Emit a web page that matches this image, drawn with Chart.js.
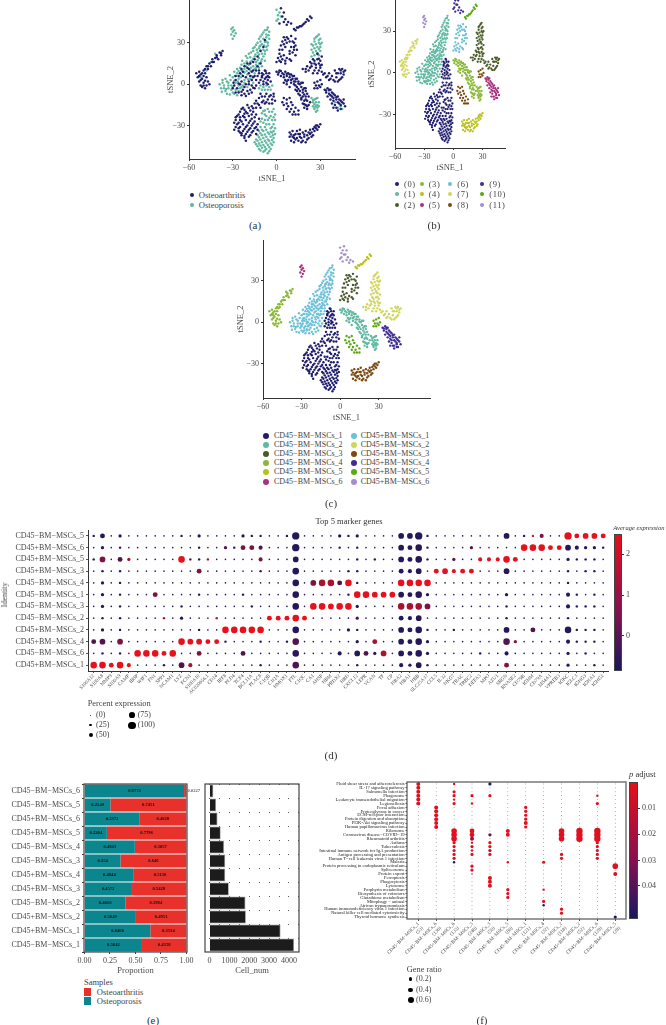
<!DOCTYPE html>
<html>
<head>
<meta charset="utf-8">
<script src="https://cdn.jsdelivr.net/npm/chart.js@4"></script>
<style>
html, body { margin: 0; padding: 0; background: #fff; overflow: hidden; }
#page { position: relative; width: 666px; height: 1025px; overflow: hidden; font-family: "Liberation Serif", serif; color: #444; }
#page canvas { position: absolute; }
#page span, #page i.bar { position: absolute; white-space: nowrap; }
</style>
</head>
<body>
<div id="page"></div>
<script>
// tSNE points. flat x,y lists, oa = osteoarthritis, op = osteoporosis
const blobAoa = [-8,10,-7,8,-9,7,-6,6,-10,5,-8,4,-6,3,-11,3,-9,2,-7,1,-5,5,-10,8,-4,2,-12,1,-4,-8,-7,-7,-10,-9,-3,-11,-6,-11,-9,-12,-12,-10,-14,-12,-2,-9,-5,-14,-8,-14,-12,-15,-15,-14,-11,-17,-17,-16,-14,-17,-1,-12,-20,-15,-23,-17,-18,-19,-21,-20,-25,-20,-16,-20,-19,-23,-23,-23,-27,-23,-14,-22,-17,-25,-21,-26,-25,-26,-28,-26,-15,-27,-19,-28,-23,-29,-27,-29,-12,-25,-13,-29,-17,-30,-21,-31,-25,-31,-28,-31,-15,-32,-19,-33,-23,-34,-26,-34,-17,-35,-21,-36,-24,-37,-19,-38,-22,-39,-13,-33,
    -7.5,9.5,-5,8,-10,6,-7,5,-9,0,-6,0,-11,-7,-8,-9,-5,-9,-2,-7,-13,-14,-10,-13,-7,-13,-3,-14,-16,-17.5,-19,-17,-22,-18.5,-24,-18,-26,-22,-22,-21.5,-20,-21,-17,-22,-15,-24,-18,-26.5,-22,-24,-25,-24,-28,-24,-29,-28,-26,-28,-24,-27,-20,-30,-16,-28.5,-14,-31,-18,-32,-22,-32.5,-26,-32,-29,-33,-24,-35.5,-20,-34.5,-16,-34,-14,-36,-18,-37,-22,-37.5,-25,-35,-21,-41];
const blobAop = [-11,-1,-9,-2,-7,-1,-5,-2,-12,-3,-10,-4,-8,-4,-6,-4,-4,-4,-3,-1,-8,-19,-5,-20,-2,-18,-10,-21,-7,-23,-4,-23,-1,-22,-10,-25,-6,-26,-3,-26,-9,-28,-5,-29,-2,-29,-1,-26,-11,-31,-8,-31,-4,-32,-1,-32,-12,-34,-9,-34,-6,-35,-3,-35,-1,-36,-13,-37,-10,-37,-7,-38,-4,-38,-2,-39,-14,-40,-11,-40,-8,-41,-5,-41,-2,-42,-15,-42,-12,-43,-9,-44,-6,-44,-3,-44,-13,-45,-10,-46,-7,-47,-4,-47,-9,-49,-6,-50,-11,-48,
    -9,-19.5,-6,-18,-3,-20,-8,-22,-5,-24.5,-2,-24,-11,-27,-8,-26,-7,-29,-3,-31,-10,-33,-7,-33,-4,-34.5,-2,-34,-11,-35.5,-8,-36.5,-5,-36,-2.5,-37,-12,-38.5,-9,-39,-6,-40,-3,-40.5,-13,-41,-10,-42,-7,-42.5,-4,-43,-14,-43.5,-11,-44.5,-8,-45.5,-5,-45.5,-12,-47,-8,-48,-5,-48.5];
const blobBop = [-6,41,-8,39,-5,38,-10,36,-7,36,-5,33,-12,33,-9,33,-6,30,-13,30,-10,29,-7,27,-15,27,-12,26,-9,25,-16,24,-13,23,-10,22,-19,22,-15,20,-12,19,-20,19,-17,17,-22,15,-14,16,-19,14,-16,13,-25,12,-22,11,-18,10,-27,8,-24,7,-20,7,-30,5,-26,4,-33,1,-36,-1,-38,-3,-35,-5,-31,-1,-28,1,-34,-7,-30,-6,-27,-8,-31,-4,-25,-3,-22,3,-18,4,-15,8,-12,12,-10,18,-8,22,-7,31,-11,28,-14,14,-23,-1,-28,-4,-20,-2,-16,1,-37,1,-33,-3,
    -6.5,39.5,-7,34,-9,37.5,-11,34.5,-8,30.5,-11,31,-5.5,35.5,-14,28.5,-11.5,27.5,-8.5,28,-6,28,-16,26,-13.5,25,-11,24.5,-8,24,-17.5,23,-14.5,21.5,-12,21.5,-9,20,-21,20.5,-18,19.5,-16,18.5,-13,17.5,-10.5,16.5,-23.5,17,-20.5,16.5,-18,16,-24,14,-21,13,-17.5,12,-14,12,-27,11,-24,10,-20.5,9.5,-29,9,-26,9.5,-22,8.5,-32,6.5,-28.5,6,-24.5,5,-35,4,-31.5,3,-29,2.5,-26.5,2,-37,3,-34,2,-39,0,-36,-3,-33,-1,-30,-2,-26,-1,-37.5,-5.5,-34.5,-3.5,-32,-7.5,-29,-7,-26,-5,-24,-2,-22,1,-19.5,3.5,-17,6,-15,11,-12,15,-10,13,-8,17,-6.5,25];
const blobBoa = [-20,12,-16,10,-14,10,-23,9,-19,8,-13,6,-26,6,-21,5,-16,5,-28,3,-24,2,-19,2,-14,3,-29,-1,-25,0,-21,0,-17,-1,-14,-1,-27,-3,-23,-4,-18,-4,-15,-3,-26,-6,-22,-7,-19,-7,-17,9,-24,-8,-12,8,-18,15,-15,18,-11,15,-13,20,-9,27,-8,32,-11,24,
    -22,13,-19,11,-24,11,-28,6,-23,6,-18,6,-29.5,1,-26,0.5,-22,-2,-19,0,-16,-2.5,-28,-6,-24,-5.5,-20,-5,-17,-6,-30,-3,-21,-8.5,-17,3,-15,6,-12,10,-20,15,-16,16,-13,13,-25,8];
const blobCop = [29,36,27,34,30,33,26,31,29,30,31,30,25,28,28,27,30,27,24,25,27,24,30,24,26,21,29,21,24,20,28,35,26,33,29,32,24,29,27,29,30,29,26,26,29,25.5,25,23,28,22.5];
const blobCoa = [28,22,31,20,25,18,28,18,30,17,23,16,26,15,29,15,31,14,21,13,24,13,27,12,30,12,18,11,22,10,26,10,29,10,33,8,20,11,32,7,35,6,37,4,39,3,42,2,44,4,46,7,47,10,45,11,43,11,40,10,42,8,44,8,45,5,38,6,36,8,41,5,
    26,17,29,18.5,24,15,27,14,30,13.5,23,12,20,9,25,8,28,8,31,9,34,5,36,3,40,2,43,3,46,9,44,10,41,8];
const blobDoa = [0,9,2,10,4,8,6,9,8,8,10,7,1,7,3,6,5,5,7,6,9,5,12,6,11,4,14,4,8,3,6,3,13,2,15,2,10,1,12,0,16,0,18,1,14,-2,17,-2,19,-3,13,-4,16,-5,18,-6,20,-5,15,-7,18,-9,20,-9,21,-7,17,-11,19,-12,21,-12,18,-14,20,-15,19,-17,21,-18,22,-15,5,1,7,0,9,-2,
    1.5,8.5,3,9.5,5,7,7,7.5,9,7,11,6,13,4,10,3,7,2,12,2,15,0.5,17,1,13,-1,15,-3.5,18,-4,20,-3,14,-5,16,-8,19,-7.5,17,-10,20,-11,22,-9,19,-14.5,21,-16,23,-13];
const blobDop = [24,-10,26,-11,28,-10,25,-13,27,-13,29,-13,25,-16,27,-16,29,-16,26,-18,28,-19,27,-20,25,-11.5,27,-10.5,26,-14.5,28,-15,26,-17,28,-17];
const blobEoa = [9,-35,11,-34,13,-36,9,-38,11,-38,14,-39,10,-41,12,-42,15,-41,14,-34,16,-36,18,-35,17,-39,19,-38,21,-37,18,-41,21,-40,23,-36,25,-37,23,-33,26,-34,24,-38,28,-33,27,-30,30,-29,29,-31,20,-34,16,-33,12,-39,26,-31,22,-39,
    10,-36.5,12,-37,15,-36,13,-40,16,-38,19,-36.5,17,-42,20,-42,22,-35,24,-35,27,-32,25,-32.5,28,-30];
const blobFoa = [33,-4,35,-3,37,-4,34,-6,36,-7,38,-6,35,-9,38,-9,40,-8,42,-9,37,-11,39,-12,41,-11,44,-12,46,-11,38,-14,40,-15,43,-14,46,-14,47,-16,41,-17,44,-18,42,-19,39,-17,34,-4.5,36,-4,39,-7,37,-8,41,-9.5,39,-10,43,-11,45,-13,42,-13,44,-15];
const blobFop = [36,-5,44,-16,45,-18,40,-13,42,-17];
const blobGoa = [5,34,8,33,10,35,4,31,7,30,11,31,13,33,3,28,6,27,10,27,13,28,12,25,14,25,2,25,9,24,2,22,5,21,1,19,4,18,7,19,10,17,0,16,3,16,13,21,6,15,9,22,7,34,6,32,9,31,12,30,5,29,12,27,4,25,11,23,3,20,6,17,9,18,2,17];
const blobHoa = [-37,24,-39,23,-38,21,-41,21,-42,19,-40,18,-44,18,-43,16,-46,15,-45,13,-48,13,-47,11,-50,10,-49,8,-53,9,-55,8,-52,7,-50,6,-54,5,-51,4,-48,5,-53,2,-50,1,-47,2,-51,-2,-48,-1,-49,-3,-46,0,-52,-1,-38,22.5,-41,19.5,-44,16,-47,13,-49,11,-51,8,-53,6,-52,3,-49,2.5,-50,-1];
const blobHop = [-42,22,-45,16,-48,10,-52,5];
const blobIoa = [5,-10,7,-11,9,-10,4,-13,7,-14,10,-13,5,-15,8,-16,11,-15,7,-18,10,-18,13,-17,9,-20,12,-20,15,-19,13,-22,15,-22,11,-22,26,1,28,2,30,3,27,-1,29,-1,31,0,26,-3,28,-3,30,-2];
const blobJop = [0,54,2,52,1,50,3,49,1,47,0,46];
const blobJoa = [3,55,5,52,4,49,6,47,8,45,10,44,7,43,5,45,2,44];
const blobKoa = [12,40,14,41,13,39,16,42,15,41,18,43,20,45,19,44,22,46,21,47,24,48,23,49,17,42];
const blobLop = [-30,33,-29,35,-31,36,-30,38,-29,39,-30,41,-31,40,-28,37];

const conditionNames = ['Osteoarthritis', 'Osteoporosis'];
const clusterNames = ['(0)', '(1)', '(2)', '(3)', '(4)', '(5)', '(6)', '(7)', '(8)', '(9)', '(10)', '(11)'];
const cellNames = ['CD45−BM−MSCs_1', 'CD45−BM−MSCs_2', 'CD45−BM−MSCs_3', 'CD45−BM−MSCs_4', 'CD45−BM−MSCs_5', 'CD45−BM−MSCs_6',
    'CD45+BM−MSCs_1', 'CD45+BM−MSCs_2', 'CD45+BM−MSCs_3', 'CD45+BM−MSCs_4', 'CD45+BM−MSCs_5', 'CD45+BM−MSCs_6'];

// dot plot (d)
const dotRows = ['CD45−BM−MSCs_5', 'CD45+BM−MSCs_6', 'CD45+BM−MSCs_5', 'CD45+BM−MSCs_3', 'CD45−BM−MSCs_4', 'CD45−BM−MSCs_1',
    'CD45−BM−MSCs_3', 'CD45−BM−MSCs_2', 'CD45+BM−MSCs_2', 'CD45+BM−MSCs_4', 'CD45−BM−MSCs_6', 'CD45+BM−MSCs_1'];
const dotGenes = ['S100A12', 'S100A8', 'MMP9', 'S100A9', 'CAMP', 'IBSP', 'WIF1', 'FN1', 'SPP1', 'NCAM1', 'LYZ', 'FCN1', 'S100A10', 'AC020656.1', 'CD14',
    'IRF8', 'PLD4', 'TCF4', 'BCL11A', 'PLAC8', 'C1QB', 'C1QA', 'HMOX1', 'FTL', 'C1QC', 'CA1', 'AHSP', 'HBM', 'PRDX2', 'HBD',
    'CXCL12', 'LEPR', 'VCAN', 'TF', 'CP', 'HBA2', 'HBA1', 'HBB', 'SLC25A37', 'CCL5', 'IL32', 'NKG7', 'TRAC', 'TRBC2', 'DEFA3',
    'MPO', 'AZU1', 'SRGN', 'RNASE2', 'CD79B', 'IGHM', 'CD79A', 'MS4A1', 'VPREB3', 'IGKC', 'IGLC3', 'IGHG3', 'IGHA1', 'IGHG1'];
// one digit per gene, 8 = 100 percent expressed
const dotPercent = [
    '25131 11111 21311 11322 11281 11132 31111 66821 11111 11612 24118 5665',
    '13121 11111 11211 32554 11181 11121 21111 65721 11131 11117 77556 4332',
    '26153 11111 72221 11114 11161 11111 21211 65721 13114 44751 11113 2221',
    '12121 11111 11511 11112 11171 11112 21111 54615 64551 11611 11112 1221',
    '13121 11111 11111 11111 11171 67757 21111 77771 11111 11111 11112 1111',
    '13121 11511 11211 11211 11171 11112 77666 65731 11111 11311 11114 2121',
    '13121 11111 21111 11121 11171 77677 31111 77761 11111 11211 11114 2221',
    '12121 11121 31112 11111 55575 11111 31111 54611 11111 11211 11112 1111',
    '13121 11111 11211 77777 11171 11113 21111 65721 12111 11611 51117 2221',
    '56161 11111 76655 21112 11271 11111 31511 65731 11111 11731 11114 2221',
    '12121 77757 11511 11511 11171 11141 65361 65731 11112 11411 11113 1211',
    '77574 11121 64111 11112 11171 11111 21111 43621 11111 11511 11113 1121'
];
// n navy, p purple, m maroon, c crimson, r red
const dotExpr = [
    'nnnnn nnnnn nnnnn nnnnn nnnnn nnnnn nnnnn nnnnn nnnnn nnnnn rmnnr rrrr',
    'nnnnn nnnnn nnnnn pnmmp nnnnn nnnnn nnnnn nnnnn nnnpn nnnnr rrrrn nnnn',
    'nmnpc nnnnn rpncn nnnnm nnnnn nnnnn nnnnn nnnnn npnnr rrrrn nnnnn nnnn',
    'nnnnn nnnnn nnmnn nnnnn nnnnn nnnnn nnnnn nnnnr rrrrn nnnnn nnnnn nnnn',
    'nnnnn nnnnn nnnnn nnnnn nnnnn mccpr nnnnn rrrrn nnnnn nnnnn nnnnn nnnn',
    'nnnnn nnmnn nnnnn nnnnn nnnnn nnnnn rrrrr nnnnn nnnnn nnnnn nnnnn nnnn',
    'nnnnn nnnnn nnnnn nnnnn nnnnn rrrrr nnnnn cccmn nnnnn nnnnn nnnnn nnnn',
    'nnnnn nnncn nnnnc nnnnn rrrrr nnnnn pnnnn nnnnn nnnnn nnnnn nnnnn nnnn',
    'nnnnn nnnnn nnnnn rrrrr nnnnn nnnnn nnnnn nnnnn nnnnn nnnnn pnnnn nnnn',
    'ppnmn nnnnn rrrrr nnnnn nnnpn nnnnn nncnn nnnnn nnnnn nnpmn nnnnn nnnn',
    'nnnnn rrrrr nnmnn nnpnn nnnnn nnnnn npncn nnnnn nnnnn nnnnn nnnnn nnnn',
    'rrrrr nnnnn pcnnn nnnnn nnnpn nnnnn nnnnn nnnnn nnnnn nnmnn nnnnn nnnn'
];
const exprLevels = { n: -0.4, p: 0.2, m: 0.8, c: 1.4, r: 2.3 };
const percentLegend = [0, 25, 50, 75, 100];

// proportions and counts (e)
const sampleRows = ['CD45−BM−MSCs_6', 'CD45−BM−MSCs_5', 'CD45+BM−MSCs_6', 'CD45+BM−MSCs_5', 'CD45−BM−MSCs_4', 'CD45−BM−MSCs_3',
    'CD45+BM−MSCs_4', 'CD45+BM−MSCs_3', 'CD45−BM−MSCs_2', 'CD45+BM−MSCs_2', 'CD45+BM−MSCs_1', 'CD45−BM−MSCs_1'];
const proportionOP = [0.9773, 0.2549, 0.5372, 0.2204, 0.4943, 0.354, 0.4844, 0.4572, 0.4016, 0.5049, 0.6466, 0.5642];
const proportionOA = [0.0227, 0.7451, 0.4628, 0.7796, 0.5057, 0.646, 0.5156, 0.5428, 0.5984, 0.4951, 0.3534, 0.4358];
const cellNum = [190, 330, 400, 560, 730, 790, 790, 970, 1810, 1830, 3580, 4260];
const cellNumTicks = [0, 500, 1000, 1500, 2000, 2500, 3000, 3500, 4000, 4500];

// enrichment (f)
const pathways = ['Fluid shear stress and atherosclerosis', 'IL-17 signaling pathway', 'Salmonella infection', 'Phagosome',
    'Leukocyte transendothelial migration', 'Legionellosis', 'Focal adhesion', 'Proteoglycans in cancer', 'ECM-receptor interaction',
    'Protein digestion and absorption', 'PI3K-Akt signaling pathway', 'Human papillomavirus infection', 'Ribosome',
    'Coronavirus disease−COVID−19', 'Rheumatoid arthritis', 'Asthma', 'Tuberculosis', 'Intestinal immune network for IgA production',
    'Antigen processing and presentation', 'Human T−cell leukemia virus 1 infection', 'Malaria', 'Protein processing in endoplasmic reticulum',
    'Spliceosome', 'Protein export', 'Ferroptosis', 'Phagocytosis', 'Lysosome', 'Porphyrin metabolism', 'Biosynthesis of cofactors',
    'Glutathione metabolism', 'Mitophagy − animal', 'African trypanosomiasis', 'Human immunodeficiency virus 1 infection',
    'Natural killer cell mediated cytotoxicity', 'Thyroid hormone synthesis'];
const enrichGroups = [['CD45−BM−MSCs_1', '(53)'], ['CD45−BM−MSCs_6', '(136)'], ['CD45+BM−MSCs_6', '(133)'], ['CD45+BM−MSCs_3', '(248)'],
    ['CD45−BM−MSCs_3', '(50)'], ['CD45−BM−MSCs_5', '(86)'], ['CD45−BM−MSCs_1', '(121)'], ['CD45−BM−MSCs_4', '(32)'],
    ['CD45−BM−MSCs_2', '(118)'], ['CD45+BM−MSCs_2', '(52)'], ['CD45+BM−MSCs_6', '(128)'], ['CD45−BM−MSCs_5', '(28)']];
// . = not enriched, digit d = gene ratio (d - 1) / 10
const enrichRatio = ['4.2.3.......', '4...........', '4.3.........', '4.333.....2.', '4.2.........', '4.32......3.',
    '.4....3.....', '.4....3.....', '.4....3.....', '.4....3.....', '.4....4.....', '.4....3.....',
    '..65.4..677.', '..6534..677.', '..64....677.', '..323.....3.', '..333.....3.', '..323.....3.', '..333...3.3.', '..3.....3.3.',
    '..2..2.3....', '...3.......6', '...3........', '...1.......4', '....4.......', '....4.......', '....4.......',
    '.....3.2....', '.....3......', '.....3......', '.......3....', '.......2....', '........3...', '........3...', '...........3'];
// row, column, p adjust where it is not near zero
const enrichPadj = [[0, 4, 0.048], [20, 2, 0.048], [13, 4, 0.03], [17, 4, 0.015], [14, 3, 0.02], [31, 7, 0.048], [34, 11, 0.048]];
const ratioLegend = [0.2, 0.4, 0.6];

const FONT = '"Liberation Serif", serif';
const NAVY = '#1f1d6d', TEAL = '#5fb8a0';
const clusterColors = ['#1f1d6d', '#5fb8a0', '#4a5a28', '#8ab838', '#b9c21a', '#a8327e', '#6cc0d8', '#d0d65e', '#7a4a12', '#3e2e8e', '#5aa812', '#a48fca'];
const cellColors = ['#1f1d6d', '#5fb8a0', '#4a5a28', '#8ab838', '#b9c21a', '#a8327e', '#6cc0d8', '#d0d65e', '#7a4a12', '#3e2e8e', '#5aa812', '#a48fca'];
const page = document.getElementById('page');
const PAD_T = 8, PAD_R = 24;

Chart.defaults.font.family = FONT;
Chart.defaults.color = '#4a4a4a';

function toXY(flat) {
    const out = [];
    for (let i = 0; i < flat.length; i += 2) out.push({ x: flat[i], y: flat[i + 1] });
    return out;
}

function addText(text, x, y, size, opts) {
    opts = opts || {};
    const s = document.createElement('span');
    s.innerHTML = text;
    s.style.left = x + 'px';
    s.style.top = y + 'px';
    s.style.fontSize = size + 'px';
    s.style.lineHeight = '1';
    s.style.transform = (opts.rotate ? 'translate(-50%,-50%) rotate(-90deg)' : (opts.center ? 'translate(-50%,-50%)' : 'translateY(-50%)'));
    if (opts.color) s.style.color = opts.color;
    if (opts.italic) s.style.fontStyle = 'italic';
    if (opts.spacing) s.style.letterSpacing = opts.spacing + 'px';
    page.appendChild(s);
}

function addDot(x, y, r, color) {
    const s = document.createElement('span');
    s.style.cssText = 'left:' + (x - r) + 'px;top:' + (y - r) + 'px;width:' + (2 * r) + 'px;height:' + (2 * r) + 'px;border-radius:50%;background:' + color;
    page.appendChild(s);
}

function addBox(x, y, w, h, background, border) {
    const s = document.createElement('span');
    s.style.cssText = 'left:' + x + 'px;top:' + y + 'px;width:' + w + 'px;height:' + h + 'px;background:' + background + (border ? ';box-sizing:border-box;border:1px solid ' + border : '');
    page.appendChild(s);
}

const framePlugin = {
    id: 'frame',
    afterDraw(chart) {
        const o = chart.options.plugins.frame;
        if (!o || !o.color) return;
        const a = chart.chartArea, c = chart.ctx;
        c.save();
        c.strokeStyle = o.color;
        c.lineWidth = o.width;
        c.strokeRect(a.left, a.top, a.right - a.left, a.bottom - a.top);
        c.restore();
    }
};

// left and bottom are the room kept for the y and x axis, so the plot area lands where it should
function makeChart(area, left, bottom, config) {
    const cvs = document.createElement('canvas');
    cvs.width = area.r - area.l + left + PAD_R;
    cvs.height = area.b - area.t + bottom + PAD_T;
    cvs.style.left = (area.l - left) + 'px';
    cvs.style.top = (area.t - PAD_T) + 'px';
    page.appendChild(cvs);
    config.options.responsive = false;
    config.options.animation = false;
    config.options.events = [];
    config.options.layout = { padding: { top: PAD_T, right: PAD_R } };
    config.options.plugins = Object.assign({ legend: { display: false }, tooltip: { enabled: false } }, config.options.plugins);
    config.options.scales.x.afterFit = s => { s.height = bottom; };
    config.options.scales.y.afterFit = s => { s.width = left; };
    config.plugins = (config.plugins || []).concat([framePlugin]);
    return new Chart(cvs.getContext('2d'), config);
}

function signed(v) {
    return v < 0 ? '−' + Math.abs(v) : '' + v;
}

function onlyMajor(scale) {
    scale.ticks = scale.ticks.filter(t => Math.abs(t.value) <= 30 || t.value === -60);
}

function tsneChart(area, left, bottom, xMax, yMin, yMax, sets, radius) {
    const axisLine = { display: true, color: '#333', width: 1 };
    makeChart(area, left, bottom, {
        type: 'scatter',
        data: {
            datasets: sets.map(d => ({ data: toXY(d.points), backgroundColor: d.color, pointRadius: radius, borderWidth: 0 }))
        },
        options: {
            scales: {
                x: {
                    type: 'linear', min: -60, max: xMax,
                    afterBuildTicks: onlyMajor,
                    border: axisLine,
                    grid: { drawOnChartArea: false, tickLength: 2, color: '#333' },
                    ticks: { stepSize: 30, includeBounds: false, padding: 2, maxRotation: 0, font: { size: 8 }, callback: signed },
                    title: { display: true, text: 'tSNE_1', font: { size: 8.5 }, padding: 0 }
                },
                y: {
                    type: 'linear', min: yMin, max: yMax,
                    afterBuildTicks: onlyMajor,
                    border: axisLine,
                    grid: { drawOnChartArea: false, tickLength: 2, color: '#333' },
                    ticks: { stepSize: 30, includeBounds: false, padding: 2, font: { size: 8 }, callback: signed },
                    title: { display: true, text: 'tSNE_2', font: { size: 8.5 }, padding: 0 }
                }
            }
        }
    });
}

// (a) two conditions
tsneChart({ l: 189, t: 0, r: 355, b: 159 }, 23, 25, 53.8, -54.2, 61, [
    { color: NAVY, points: [].concat(blobAoa, blobBoa, blobCoa, blobDoa, blobEoa, blobFoa, blobGoa, blobHoa, blobIoa, blobJoa, blobKoa) },
    { color: TEAL, points: [].concat(blobAop, blobBop, blobCop, blobDop, blobFop, blobHop, blobJop, blobLop) }
], 1.25);

// (b) clusters
const clusterPoints = [[].concat(blobAoa, blobAop), [].concat(blobBop, blobBoa), [].concat(blobCop, blobCoa), [].concat(blobDoa, blobDop),
    blobEoa, [].concat(blobFoa, blobFop), blobGoa, [].concat(blobHoa, blobHop), blobIoa, [].concat(blobJop, blobJoa), blobKoa, blobLop];
tsneChart({ l: 395, t: 0, r: 505, b: 148 }, 28, 25, 53.1, -54, 52.4,
    clusterPoints.map((p, i) => ({ color: clusterColors[i], points: p })), 1.15);

// (c) the same groups under their cell names
const cellPoints = [clusterPoints[0], clusterPoints[3], clusterPoints[6], clusterPoints[7], clusterPoints[10], clusterPoints[11],
    clusterPoints[1], clusterPoints[2], clusterPoints[4], clusterPoints[5], clusterPoints[8], clusterPoints[9]];
tsneChart({ l: 263, t: 240, r: 430, b: 398 }, 27, 25, 69.9, -54.9, 59.5,
    cellPoints.map((p, i) => ({ color: cellColors[i], points: p })), 1.2);

// (d) marker genes
function mixColor(t) {
    t = Math.max(0, Math.min(1, t));
    const low = [23, 23, 95], high = [232, 16, 28];
    return 'rgb(' + low.map((v, i) => Math.round(v + (high[i] - v) * t)).join(',') + ')';
}
function percentRadius(p) {
    return 0.4 + p * 0.0328;
}
const dotData = [];
dotRows.forEach((name, r) => {
    const sizes = dotPercent[r].replace(/ /g, ''), cols = dotExpr[r].replace(/ /g, '');
    dotGenes.forEach((g, c) => {
        dotData.push({ x: c, y: name, pct: Number(sizes[c]) * 12.5, expr: exprLevels[cols[c]] });
    });
});
makeChart({ l: 88, t: 530, r: 608, b: 671 }, 88, 36, {
    type: 'scatter',
    data: {
        datasets: [{
            data: dotData,
            borderWidth: 0,
            pointRadius: c => percentRadius(c.raw.pct),
            backgroundColor: c => mixColor((c.raw.expr + 0.6) / 2.9)
        }]
    },
    options: {
        scales: {
            x: {
                type: 'linear', min: -0.65, max: 58.55,
                border: { display: true, color: '#333', width: 1 },
                grid: { drawOnChartArea: false, tickLength: 2, color: '#555' },
                ticks: { stepSize: 1, includeBounds: false, autoSkip: false, minRotation: 45, maxRotation: 45, padding: 0, font: { size: 5 }, callback: v => dotGenes[v] }
            },
            y: {
                type: 'category', labels: dotRows, offset: true,
                border: { display: true, color: '#333', width: 1 },
                grid: { drawOnChartArea: false, tickLength: 2, color: '#555' },
                ticks: { autoSkip: false, padding: 2, font: { size: 8 } }
            }
        }
    }
});

// (e) stacked proportions and cell counts
const barValues = {
    id: 'barValues',
    afterDatasetsDraw(chart) {
        const c = chart.ctx;
        c.save();
        c.font = 'bold 4.6px ' + FONT;
        c.textBaseline = 'middle';
        chart.data.datasets.forEach((ds, i) => {
            chart.getDatasetMeta(i).data.forEach((bar, j) => {
                const v = ds.data[j];
                if (v < 0.05) {
                    c.fillStyle = '#666';
                    c.textAlign = 'left';
                    c.fillText(v, bar.x + 1, bar.y);
                } else {
                    c.fillStyle = '#111';
                    c.textAlign = 'center';
                    c.fillText(v, (bar.x + bar.base) / 2, bar.y);
                }
            });
        });
        c.restore();
    }
};
makeChart({ l: 84, t: 784, r: 187, b: 952 }, 84, 24, {
    type: 'bar',
    plugins: [barValues],
    data: {
        labels: sampleRows,
        datasets: [
            { label: conditionNames[1], data: proportionOP, backgroundColor: '#0b858e', barPercentage: 0.92, categoryPercentage: 1 },
            { label: conditionNames[0], data: proportionOA, backgroundColor: '#e8312a', barPercentage: 0.92, categoryPercentage: 1 }
        ]
    },
    options: {
        indexAxis: 'y',
        plugins: { frame: { color: '#444', width: 1.2 } },
        scales: {
            x: {
                type: 'linear', min: -0.004, max: 1.006, stacked: true,
                border: { display: false },
                grid: { drawOnChartArea: false, tickLength: 2, color: '#444' },
                ticks: { stepSize: 0.25, includeBounds: false, padding: 2, maxRotation: 0, font: { size: 8 }, callback: v => v.toFixed(2) },
                title: { display: true, text: 'Proportion', font: { size: 8.5 }, padding: 0 }
            },
            y: {
                type: 'category', stacked: true,
                border: { display: false },
                grid: { drawOnChartArea: false, tickLength: 2, color: '#444' },
                ticks: { autoSkip: false, padding: 2, font: { size: 8 } }
            }
        }
    }
});
makeChart({ l: 205, t: 784, r: 299, b: 952 }, 2, 24, {
    type: 'bar',
    data: {
        labels: sampleRows,
        datasets: [{ data: cellNum, backgroundColor: '#1c1c1c', borderColor: '#999', borderWidth: 0.8, barPercentage: 0.92, categoryPercentage: 1 }]
    },
    options: {
        indexAxis: 'y',
        plugins: { frame: { color: '#444', width: 1.2 } },
        scales: {
            x: {
                type: 'linear', min: -232, max: 4508,
                // linear scale drops the step when min and max do not sit on it, so the ticks are set by hand
                afterBuildTicks: s => { s.ticks = cellNumTicks.map(v => ({ value: v })); },
                border: { display: false, dash: [1, 13] },
                grid: { tickLength: 2, color: '#333', tickColor: 'transparent', lineWidth: 0.8 },
                ticks: { autoSkip: false, padding: 2, maxRotation: 0, font: { size: 8 }, callback: v => (v % 1000 === 0 ? String(v) : '') },
                title: { display: true, text: 'Cell_num', font: { size: 8.5 }, padding: 0 }
            },
            y: {
                type: 'category',
                border: { display: false },
                grid: { display: false },
                ticks: { display: false }
            }
        }
    }
});

// (f) enrichment dots
const enrichData = [];
enrichRatio.forEach((row, r) => {
    row.split('').forEach((ch, c) => {
        const over = enrichPadj.find(e => e[0] === r && e[1] === c);
        enrichData.push({ x: c, y: pathways[r], ratio: ch === '.' ? null : (Number(ch) - 1) / 10, padj: over ? over[2] : 0.002 });
    });
});
makeChart({ l: 407, t: 782, r: 626, b: 919 }, 100, 50, {
    type: 'scatter',
    data: {
        datasets: [{
            data: enrichData,
            borderWidth: 0,
            pointRadius: c => (c.raw.ratio === null ? 0.4 : 0.8 + 4 * c.raw.ratio),
            backgroundColor: c => (c.raw.ratio === null ? '#333' : mixColor(1 - c.raw.padj / 0.05))
        }]
    },
    options: {
        plugins: { frame: { color: '#555', width: 1.2 } },
        scales: {
            x: {
                type: 'linear', min: -0.63, max: 11.6,
                border: { display: false },
                grid: { drawOnChartArea: false, tickLength: 2, color: '#555' },
                ticks: { stepSize: 1, includeBounds: false, autoSkip: false, minRotation: 45, maxRotation: 45, padding: 0, font: { size: 5 }, callback: v => enrichGroups[v] }
            },
            y: {
                type: 'category', labels: pathways, offset: true,
                border: { display: false },
                grid: { drawOnChartArea: false, tickLength: 1.5, color: '#555' },
                ticks: { autoSkip: false, padding: 1, color: '#222', font: { size: 4.6 } }
            }
        }
    }
});

// legends, colour bars and captions
conditionNames.forEach((n, i) => {
    addDot(192, 194.7 + i * 10.6, 2.2, i ? TEAL : NAVY);
    addText(n, 198.7, 194.7 + i * 10.6, 8.6);
});
clusterNames.forEach((n, i) => {
    const col = Math.floor(i / 3), row = i % 3;
    const rowY = [184, 193.7, 205];
    addDot([397, 422, 450.3, 481.7][col], rowY[row], 2, clusterColors[i]);
    addText(n, [404, 428.7, 457.3, 489.3][col], rowY[row], 8.5, { spacing: 0.6 });
});
cellNames.forEach((n, i) => {
    const col = i < 6 ? 0 : 1, row = i % 6;
    const rowY = [436, 444.5, 454, 462.7, 472.2, 482.3];
    addDot(col ? 353.7 : 266.3, rowY[row], 3, cellColors[i]);
    addText(n, col ? 360.7 : 274, rowY[row], 8);
});

addText('Top 5 marker genes', 349, 521, 8.5, { center: true, color: '#333' });
addText('Identity', 5, 595, 8, { rotate: true });
addText('Percent expression', 87.7, 704, 8.4);
percentLegend.forEach((p, i) => {
    const second = i > 2, row = second ? i - 3 : i;
    addDot(second ? 132 : 90.7, 715 + row * 10.2, percentRadius(p), '#000');
    addText('(' + p + ')', second ? 137.7 : 96, 715 + row * 10.2, 8);
});
addText('Average expression', 613.3, 528, 6.6, { italic: true, color: '#333' });
addBox(614.3, 534.3, 8, 136.7, 'linear-gradient(#e60f18 0%, #8a1050 55%, #18185f 100%)', '#444');
[[2, 554], [1, 595], [0, 635.7]].forEach(t => {
    addBox(622.3, t[1] - 0.4, 2, 0.8, '#333');
    addText(t[0], 626, t[1], 8);
});

addText('Samples', 84, 982, 8.5);
addBox(84.3, 988, 7, 8, '#e8312a');
addBox(84.3, 997, 7, 8, '#0b858e');
addText(conditionNames[0], 96.7, 991.7, 8.6);
addText(conditionNames[1], 96.7, 1000.7, 8.6);

addText('<i>p</i> adjust', 629, 774, 8.5, { color: '#333' });
addBox(629, 781.7, 8.5, 137.3, 'linear-gradient(#e60f18 0%, #8a1050 55%, #18185f 100%)', '#444');
[['0.01', 808.3], ['0.02', 834], ['0.03', 860.7], ['0.04', 885.7]].forEach(t => {
    addBox(637.5, t[1] - 0.4, 2, 0.8, '#333');
    addText(t[0], 642, t[1], 8);
});
addText('Gene ratio', 406.7, 970, 8.4);
ratioLegend.forEach((g, i) => {
    const y = [979, 990, 1000.3][i];
    addDot(410.7, y, 0.8 + 4 * g, '#000');
    addText('(' + g + ')', 416, y, 8);
});

addText('(a)', 255, 225, 11, { center: true, color: '#333' });
addText('(b)', 434, 225, 11, { center: true, color: '#333' });
addText('(c)', 331, 503, 11, { center: true, color: '#333' });
addText('(d)', 331, 755, 11, { center: true, color: '#333' });
addText('(e)', 153, 1020, 11, { center: true, color: '#333' });
addText('(f)', 482, 1020, 11, { center: true, color: '#333' });
</script>
</body>
</html>
